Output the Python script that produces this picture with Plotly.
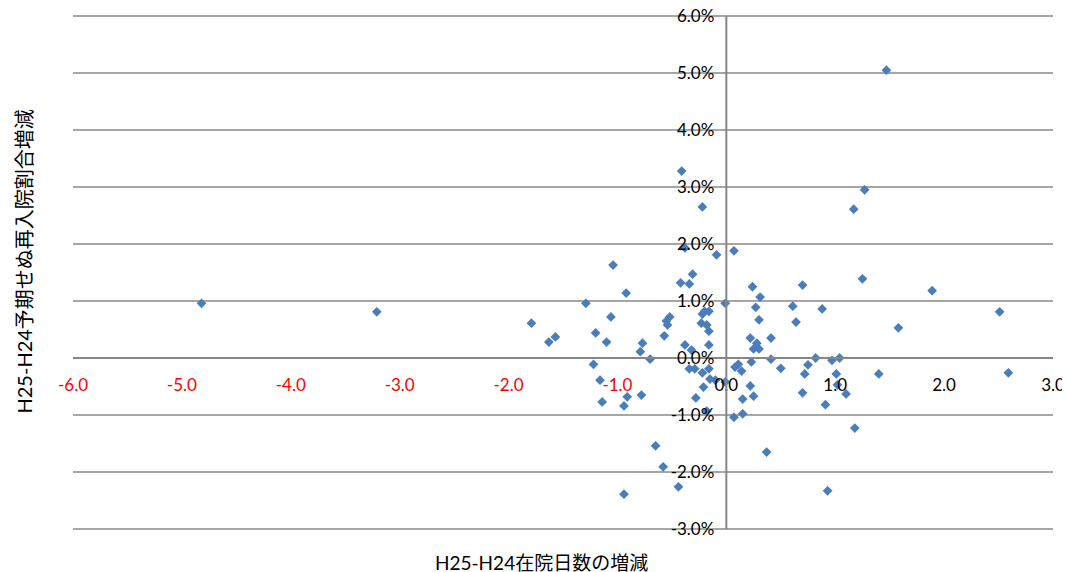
import plotly.graph_objects as go

# H25-H24 change in length of stay (days)
los_change = [
    -4.82, -3.21, -1.79, -1.63, -1.57, -1.29, -1.20, -1.10, -1.04, -1.06,
    -0.92, -1.22, -1.16, -1.14, -0.94, -0.91, -0.78, -0.65, -0.58, -0.44,
    -0.94, -0.41, -0.22, -0.38, -0.09, -0.31, -0.42, -0.34, -0.01, -0.52,
    -0.55, -0.54, -0.57, -0.77, -0.79, -0.70, -0.38, -0.32, -0.22, -0.20,
    -0.16, -0.23, -0.18, -0.16, -0.16, -0.34, -0.29, -0.22, -0.16, -0.15,
    -0.10, -0.21, -0.28, -0.18, -0.01, 0.11, 0.08, 0.14, 0.22, 0.25,
    0.15, 0.07, 0.15, 0.37, 1.27, 1.17, 0.07, 1.25, 0.70, 0.24,
    0.31, 1.89, 0.27, 0.61, 0.88, 0.30, 0.64, 1.58, 0.22, 0.41,
    0.28, 0.25, 0.30, 0.82, 0.97, 1.04, 0.41, 0.23, 0.50, 0.75,
    0.72, 1.01, 1.02, 1.40, 0.70, 1.10, 0.91, 1.18, 0.93, 1.47,
    2.51, 2.59,
]

# H25-H24 change in unplanned readmission rate (%)
readmit_change = [
    0.96, 0.81, 0.61, 0.28, 0.37, 0.96, 0.44, 0.28, 1.63, 0.72,
    1.14, -0.11, -0.39, -0.77, -0.84, -0.68, -0.65, -1.54, -1.91, -2.26,
    -2.39, 3.28, 2.65, 1.93, 1.81, 1.47, 1.32, 1.30, 0.96, 0.72,
    0.65, 0.58, 0.39, 0.26, 0.11, -0.02, 0.23, 0.14, 0.77, 0.82,
    0.82, 0.61, 0.58, 0.47, 0.23, -0.19, -0.19, -0.26, -0.19, -0.37,
    -0.39, -0.51, -0.70, -0.93, -0.42, -0.11, -0.16, -0.23, -0.49, -0.67,
    -0.72, -1.04, -0.98, -1.65, 2.95, 2.61, 1.88, 1.39, 1.28, 1.25,
    1.07, 1.18, 0.89, 0.91, 0.86, 0.67, 0.63, 0.53, 0.35, 0.35,
    0.26, 0.16, 0.16, 0.00, -0.04, 0.00, -0.02, -0.07, -0.18, -0.12,
    -0.28, -0.28, -0.47, -0.28, -0.61, -0.63, -0.82, -1.23, -2.33, 5.05,
    0.81, -0.26,
]

x_ticks = [-6, -5, -4, -3, -2, -1, 0, 1, 2, 3]
y_ticks = [-3, -2, -1, 0, 1, 2, 3, 4, 5, 6]

x_title = "H25-H24在院日数の増減"
y_title = "H25-H24予期せぬ再入院割合増減"

FONT = "Lato, 'Noto Sans CJK JP', sans-serif"

x_ticktext = [
    (f'<span style="color:#FF0000">{v:.1f}</span>' if v < 0 else f"{v:.1f}")
    for v in x_ticks
]
y_ticktext = [f"{v:.1f}%" for v in y_ticks]

PAD_PX = 2                 # extra pixels so edge gridlines are drawn
EPS_Y = PAD_PX / 57.0      # y units per pixel ~ 1/57
y_lo, y_hi = -3 - EPS_Y, 6 + EPS_Y
PLOT_H = 513 + 2 * PAD_PX

fig = go.Figure()
fig.add_trace(go.Scatter(
    x=los_change, y=readmit_change, mode="markers",
    marker=dict(symbol="diamond", size=7.5, color="#4a7ebb", line=dict(width=0)),
    showlegend=False, hoverinfo="x+y",
))

fig.update_layout(
    width=1062, height=564,
    margin=dict(l=65, r=17, t=8 - PAD_PX, b=43 - PAD_PX),
    paper_bgcolor="white", plot_bgcolor="white",
    font=dict(family=FONT, size=17, color="#000000"),
    xaxis=dict(
        range=[-6, 3], tickvals=x_ticks, ticktext=x_ticktext,
        showgrid=False, zeroline=False,
        showline=True, linecolor="#868686", linewidth=2,
        anchor="free", position=(0 - y_lo) / (y_hi - y_lo), ticks="",
        ticklabelstandoff=12, ticklabeloverflow="allow",
        tickfont=dict(size=17, color="#000000"), automargin=False,
    ),
    yaxis=dict(
        range=[y_lo, y_hi], tickvals=y_ticks, ticktext=y_ticktext,
        showgrid=True, gridcolor="#a6a6a6", gridwidth=1.5, zeroline=False,
        showline=False,
        anchor="free", position=6 / 9, ticks="",
        ticklabelstandoff=12, ticklabeloverflow="allow",
        tickfont=dict(size=17, color="#000000"), automargin=False,
    ),
    shapes=[
        # vertical axis line at x = 0 spanning -3% .. 6%
        dict(type="line", xref="x", yref="y", x0=0, x1=0, y0=-3, y1=6,
             line=dict(color="#868686", width=2), layer="above"),
    ],
    annotations=[
        dict(text=x_title, xref="paper", yref="paper", x=0.4776,
             y=(-29 - PAD_PX) / PLOT_H,
             showarrow=False, xanchor="center", yanchor="middle",
             font=dict(size=19, family=FONT, color="#000000")),
        dict(text=y_title, xref="paper", yref="paper", x=-0.0505,
             y=(267 + PAD_PX) / PLOT_H,
             showarrow=False, xanchor="center", yanchor="middle", textangle=-90,
             font=dict(size=20, family=FONT, color="#000000")),
    ],
)

fig.write_html("out.html")
